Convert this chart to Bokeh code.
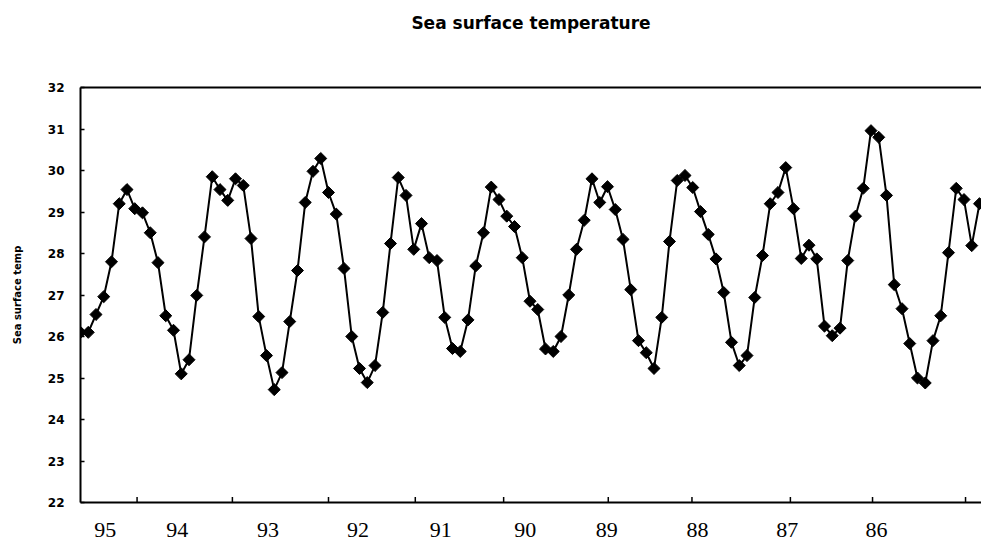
import numpy as np
from bokeh.plotting import figure
from bokeh.models import LinearAxis, FixedTicker, Range1d, ColumnDataSource
from bokeh.embed import file_html
from bokeh.resources import INLINE

# Monthly index (left = most recent, 1995 -> 1986)
month_index = list(range(117))
sst = [
    26.10, 26.10, 26.53, 26.96, 27.80, 29.20, 29.54, 29.08, 28.98, 28.50,
    27.78, 26.50, 26.15, 25.10, 25.44, 26.99, 28.40, 29.85, 29.54, 29.28,
    29.80, 29.64, 28.36, 26.48, 25.54, 24.72, 25.13, 26.36, 27.59, 29.23,
    29.98, 30.29, 29.47, 28.95, 27.64, 26.00, 25.23, 24.89, 25.30, 26.58,
    28.24, 29.83, 29.40, 28.10, 28.72, 27.90, 27.83, 26.46, 25.71, 25.64,
    26.40, 27.70, 28.50, 29.60, 29.30, 28.90, 28.65, 27.90, 26.85, 26.65,
    25.70, 25.64, 26.00, 27.00, 28.10, 28.80, 29.80, 29.23, 29.61, 29.06,
    28.34, 27.13, 25.90, 25.61, 25.23, 26.46, 28.29, 29.76, 29.88, 29.59,
    29.01, 28.46, 27.87, 27.06, 25.86, 25.30, 25.54, 26.94, 27.95, 29.20,
    29.47, 30.07, 29.08, 27.88, 28.20, 27.87, 26.25, 26.02, 26.20, 27.83,
    28.90, 29.57, 30.96, 30.80, 29.40, 27.25, 26.67, 25.83, 25.00, 24.88,
    25.90, 26.50, 28.02, 29.57, 29.30, 28.19, 29.20,
]
year_labels = ["95", "94", "93", "92", "91", "90", "89", "88", "87", "86"]
year_label_pos = [3.2, 12.5, 24.2, 35.8, 46.5, 57.4, 67.9, 79.6, 91.2, 102.7]
year_tick_pos = [7.3, 19.6, 32.0, 43.2, 54.6, 68.1, 78.9, 91.6, 102.2, 114.2]
y_ticks = list(range(22, 33))
y_min, y_max = 22, 32
chart_title = "Sea surface temperature"

src = ColumnDataSource(data=dict(month=month_index, sst=sst))

p = figure(width=981, height=549, output_backend="svg", toolbar_location=None,
           title_location=None,
           x_range=Range1d(0, 116.26), y_range=Range1d(y_min, y_max),
           x_axis_location=None, y_axis_location=None,
           min_border_left=80, min_border_right=0,
           min_border_top=87, min_border_bottom=47)
p.outline_line_color = None
p.background_fill_color = "white"
p.border_fill_color = "white"

yax = LinearAxis(ticker=FixedTicker(ticks=y_ticks), axis_label="Sea surface temp",
                 axis_line_width=2, axis_line_color="black",
                 major_tick_in=4, major_tick_out=0, major_tick_line_width=1.5,
                 minor_tick_line_color=None,
                 major_label_standoff=16,
                 major_label_text_font="DejaVu Sans",
                 major_label_text_font_style="bold",
                 major_label_text_font_size="12px",
                 major_label_text_color="black",
                 axis_label_text_font="DejaVu Sans",
                 axis_label_text_font_style="bold",
                 axis_label_text_font_size="10px",
                 axis_label_text_color="black",
                 axis_label_standoff=22)
p.add_layout(yax, "left")

xlab_ax = LinearAxis(ticker=FixedTicker(ticks=year_label_pos),
                     major_label_overrides={pos: lab for pos, lab in zip(year_label_pos, year_labels)},
                     axis_line_width=2, axis_line_color="black",
                     major_tick_line_color=None, major_tick_in=0, major_tick_out=0,
                     minor_tick_line_color=None,
                     major_label_standoff=20,
                     major_label_text_font="Liberation Serif",
                     major_label_text_font_size="22px",
                     major_label_text_color="black")
p.add_layout(xlab_ax, "below")

# top frame line, carrying the chart title as its label
top_ax = LinearAxis(ticker=FixedTicker(ticks=[]), axis_line_width=2, axis_line_color="black",
                    major_tick_line_color=None, minor_tick_line_color=None,
                    major_tick_in=0, major_tick_out=0, major_label_standoff=0,
                    axis_label=chart_title, axis_label_standoff=55,
                    axis_label_text_font="DejaVu Sans",
                    axis_label_text_font_style="bold",
                    axis_label_text_font_size="17px",
                    axis_label_text_color="black")
p.add_layout(top_ax, "above")

# year boundary tick marks on the bottom axis
p.segment(x0=year_tick_pos, y0=[y_min] * len(year_tick_pos),
          x1=year_tick_pos, y1=[y_min + 0.13] * len(year_tick_pos),
          line_color="black", line_width=1.5)

p.line(x="month", y="sst", source=src, line_color="black", line_width=2)
p.scatter(x="month", y="sst", source=src, marker="square", angle=np.pi / 4,
          size=8.5, fill_color="black", line_color="black")

p.xgrid.visible = False
p.ygrid.visible = False
for g in p.grid:
    g.visible = False

open("out.html", "w").write(file_html(p, INLINE))
